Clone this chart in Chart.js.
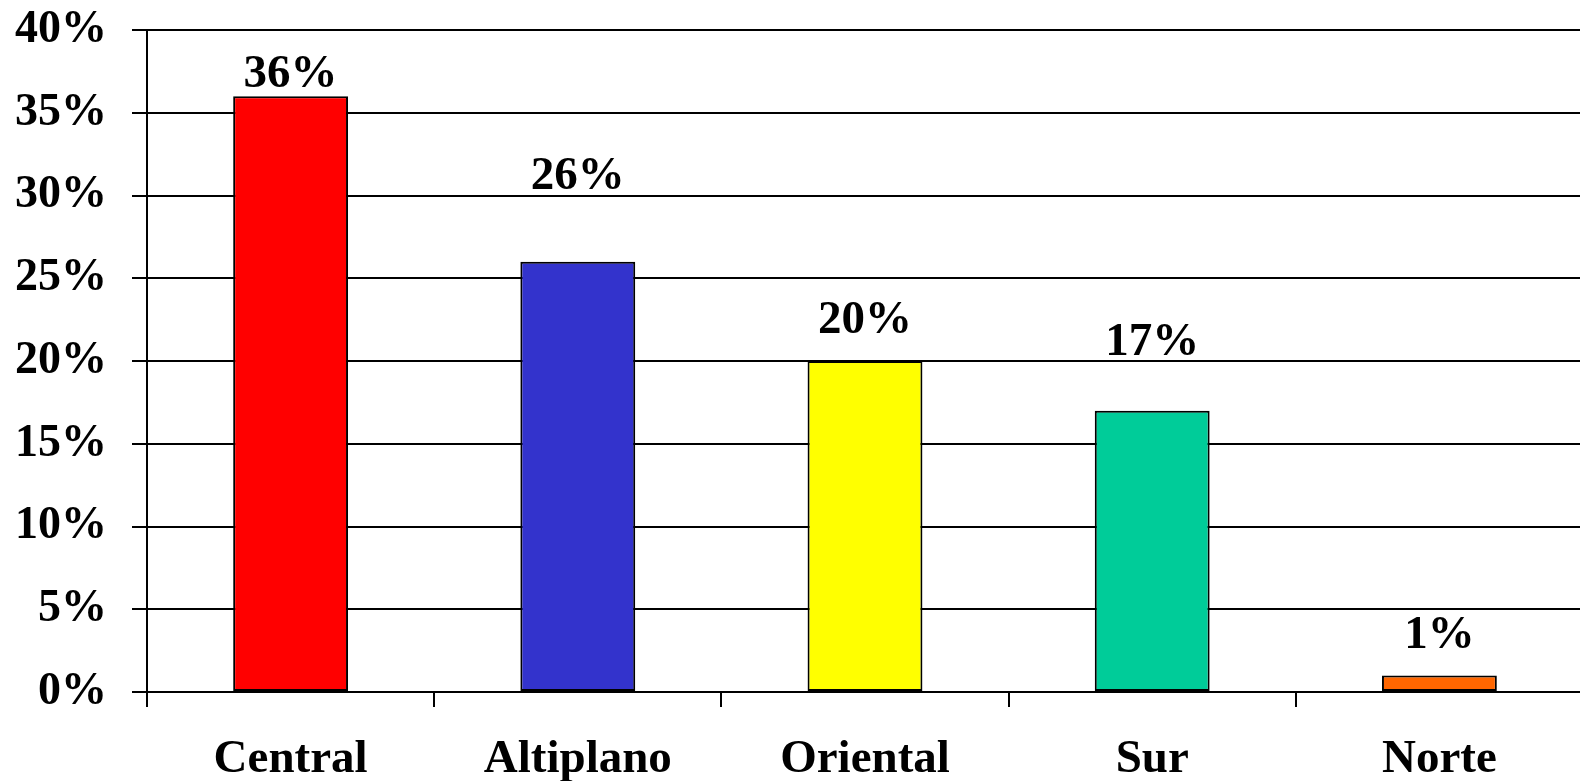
<!DOCTYPE html>
<html>
<head>
<meta charset="utf-8">
<script src="https://cdn.jsdelivr.net/npm/chart.js@4/dist/chart.umd.min.js"></script>
<style>
  html, body { margin: 0; padding: 0; background: #fff; overflow: hidden; }
  #wrap { width: 1583px; height: 781px; position: relative; }
</style>
</head>
<body>
<div id="wrap"><canvas id="c"></canvas></div>
<script>
const categories = ["Central", "Altiplano", "Oriental", "Sur", "Norte"];
const values = [36, 26, 20, 17, 1];
const yTickValues = [0, 5, 10, 15, 20, 25, 30, 35, 40];
const barColors = ["#FF0000", "#3333CC", "#FFFF00", "#00CC99", "#FF6600"];

const FONT = '"Liberation Serif", "Times New Roman", serif';

const valueLabels = {
  id: 'valueLabels',
  afterDatasetsDraw(chart, args, opts) {
    const ctx = chart.ctx;
    const meta = chart.getDatasetMeta(0);
    ctx.save();
    ctx.font = 'bold 47px ' + FONT;
    ctx.fillStyle = '#000';
    ctx.textAlign = 'center';
    ctx.textBaseline = 'alphabetic';
    meta.data.forEach((bar, i) => {
      const v = chart.data.datasets[0].data[i];
      ctx.fillText(v + '%', bar.x, bar.y - opts.offsets[i]);
    });
    ctx.restore();
  }
};

new Chart(document.getElementById('c'), {
  type: 'bar',
  data: {
    labels: categories,
    datasets: [{
      data: values,
      backgroundColor: barColors,
      borderColor: '#000',
      borderWidth: 2,
      borderSkipped: false,
      barPercentage: 0.4,
      categoryPercentage: 1.0
    }]
  },
  plugins: [valueLabels],
  options: {
    responsive: true,
    maintainAspectRatio: false,
    animation: false,
    layout: { padding: { top: 30, right: 0, bottom: 0, left: 0 } },
    plugins: {
      legend: { display: false },
      tooltip: { enabled: false },
      valueLabels: { offsets: [9, 73, 28, 56, 27] }
    },
    scales: {
      x: {
        grid: {
          display: true,
          offset: true,
          drawOnChartArea: false,
          drawTicks: true,
          tickLength: 15,
          color: '#000',
          lineWidth: 2
        },
        border: { display: true, color: '#000', width: 2 },
        ticks: {
          color: '#000',
          font: { family: FONT, size: 47, weight: 'bold' },
          padding: 25,
          maxRotation: 0,
          autoSkip: false
        },
        afterFit(scale) { scale.height = 89; }
      },
      y: {
        min: 0,
        max: 40,
        afterBuildTicks(scale) { scale.ticks = yTickValues.map(v => ({ value: v })); },
        grid: {
          color: '#000',
          lineWidth: 2,
          drawTicks: true,
          tickLength: 15
        },
        border: { display: true, color: '#000', width: 2 },
        ticks: {
          color: '#000',
          font: { family: FONT, size: 46, weight: 'bold', lineHeight: 0.1 },
          padding: 25,
          callback: v => v + '%'
        },
        afterFit(scale) { scale.width = 147; }
      }
    }
  }
});
</script>
</body>
</html>
